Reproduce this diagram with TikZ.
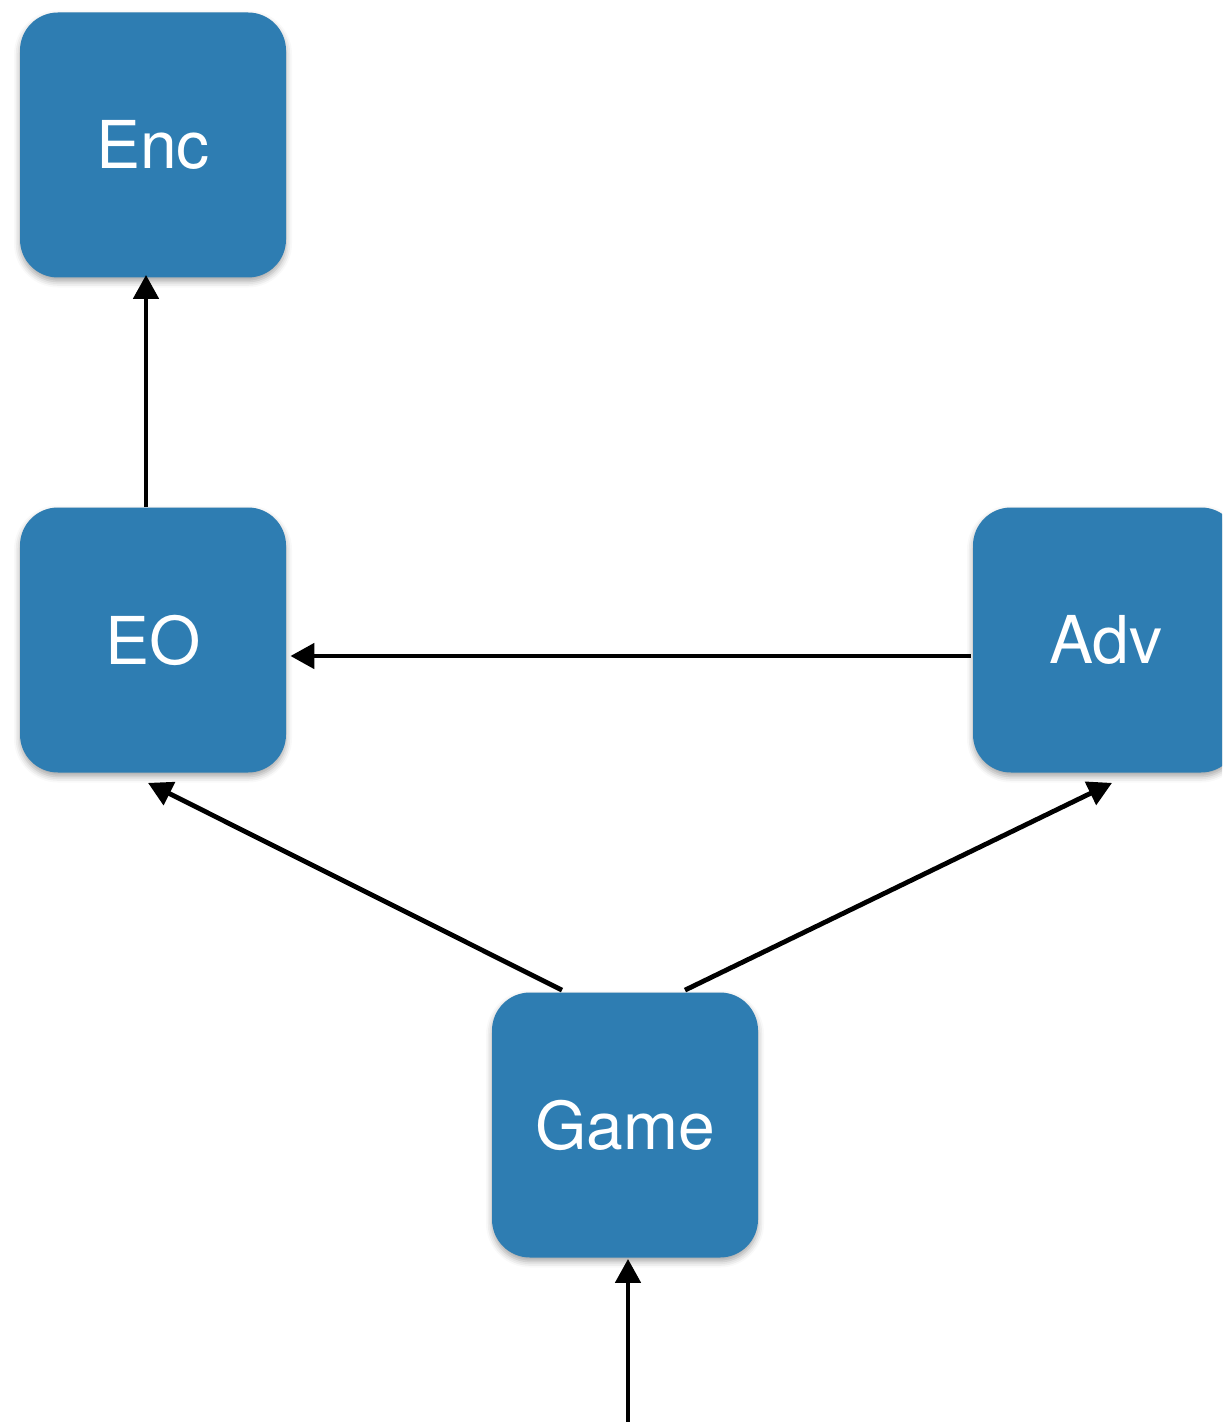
\documentclass[tikz,border=0pt]{standalone}
\usepackage{fontspec}
\setmainfont{TeX Gyre Heros}
\usetikzlibrary{arrows.meta,shadows.blur}
\definecolor{boxblue}{RGB}{46,125,178}
\tikzset{
  blockbox/.style={fill=boxblue, rounded corners=19pt, minimum width=133pt, minimum height=132.5pt,
    inner sep=0pt, text=white, font=\fontsize{33}{36}\selectfont,
    blur shadow={shadow xshift=0pt, shadow yshift=-2pt, shadow blur radius=3pt, shadow opacity=35}},
  conn/.style={line width=2.4pt, -{Triangle[length=12pt, width=12.5pt]}}
}
\begin{document}
\begin{tikzpicture}[x=0.5pt,y=-0.5pt]
\useasboundingbox (0,0) rectangle (1222,1422);
\clip (0,0) rectangle (1222,1422);
\node[blockbox] (Enc) at (153,145) {Enc};
\node[blockbox] (EO) at (153,640) {EO};
\node[blockbox] (Adv) at (1106,640) {Adv};
\node[blockbox] (Game) at (625,1125) {Game};
\coordinate (In) at (628,1422);
\draw[conn] ([xshift=-3.5pt]EO.north) -- ([xshift=-3.5pt,yshift=1.5pt]Enc.south);
\draw[conn] ([xshift=-1pt,yshift=-8pt]Adv.west) -- ([xshift=2pt,yshift=-8pt]EO.east);
\draw[conn] ([xshift=-31.5pt,yshift=1pt]Game.north) -- ([xshift=-2.5pt,yshift=-5pt]EO.south);
\draw[conn] ([xshift=30pt,yshift=1pt]Game.north) -- ([xshift=3pt,yshift=-5pt]Adv.south);
\draw[conn] (In) -- ([xshift=1.5pt,yshift=-0.5pt]Game.south);
\end{tikzpicture}
\end{document}
